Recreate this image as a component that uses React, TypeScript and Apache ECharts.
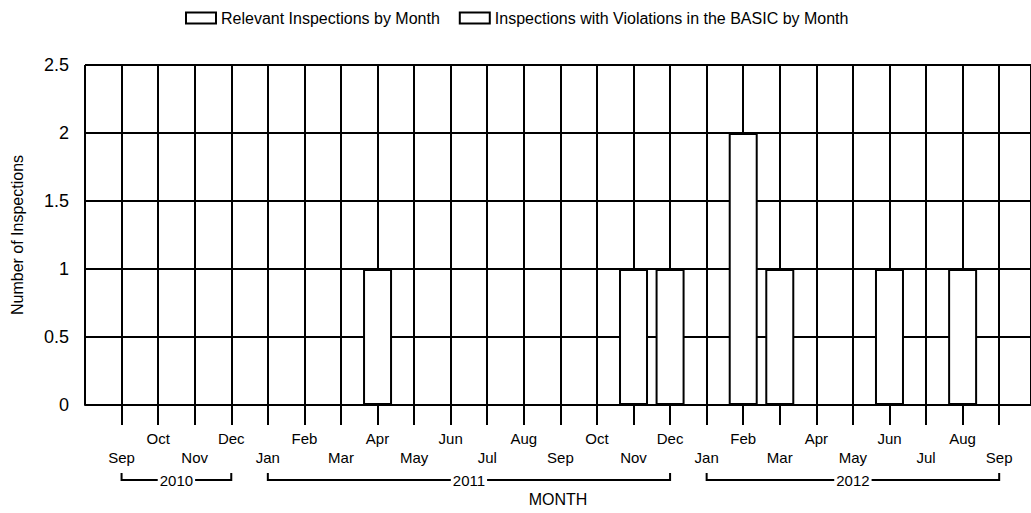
import React, { useEffect, useRef } from "react";
import * as echarts from "echarts";

// Month index 0 = Sep 2010 ... 24 = Sep 2012
const monthLabels = [
  "Sep", "Oct", "Nov", "Dec",
  "Jan", "Feb", "Mar", "Apr", "May", "Jun", "Jul", "Aug", "Sep", "Oct", "Nov", "Dec",
  "Jan", "Feb", "Mar", "Apr", "May", "Jun", "Jul", "Aug", "Sep",
];
const relevantInspections = [0, 0, 0, 0, 0, 0, 0, 1, 0, 0, 0, 0, 0, 0, 1, 1, 0, 2, 1, 0, 0, 1, 0, 1, 0];
const violationInspections = [0, 0, 0, 0, 0, 0, 0, 0, 0, 0, 0, 0, 0, 0, 0, 0, 0, 0, 0, 0, 0, 0, 0, 0, 0];
const yearLabels = ["2010", "2011", "2012"];
const yearStart = [0, 4, 16];
const yearEnd = [3, 15, 24];
const yTicks = [0, 0.5, 1, 1.5, 2, 2.5];

const FONT = "'Liberation Sans', Arial, sans-serif";

export default function App() {
  const ref = useRef<HTMLDivElement>(null);
  useEffect(() => {
    if (!ref.current) return;
    const chart = echarts.init(ref.current, null, { renderer: "svg" });
    const black = "#000";
    chart.setOption({
      animation: false,
      backgroundColor: "#fff",
      textStyle: { fontFamily: FONT, color: black },
      legend: {
        top: 5,
        left: 180,
        itemWidth: 30,
        itemHeight: 11,
        itemGap: 19,
        icon: "rect",
        textStyle: { fontSize: 16, color: black, fontFamily: FONT },
        data: ["Relevant Inspections by Month", "Inspections with Violations in the BASIC by Month"],
      },
      grid: { left: 85, right: 0, top: 65, bottom: 108, containLabel: false },
      xAxis: {
        type: "value",
        min: -1,
        max: 24.87,
        interval: 1,
        name: "MONTH",
        nameLocation: "middle",
        nameGap: 86,
        nameTextStyle: { fontSize: 16, color: black, fontFamily: FONT },
        axisLine: { show: true, onZero: false, lineStyle: { color: black, width: 2 } },
        axisTick: { show: true, length: 20, lineStyle: { color: black, width: 2 } },
        axisLabel: {
          showMinLabel: false,
          showMaxLabel: false,
          margin: 24,
          fontSize: 15,
          lineHeight: 19,
          color: black,
          fontFamily: FONT,
          formatter: (v: number) => {
            const i = Math.round(v);
            if (Math.abs(v - i) > 1e-6 || i < 0 || i >= monthLabels.length) return "";
            return i % 2 === 1 ? monthLabels[i] : "\n" + monthLabels[i];
          },
        },
        splitLine: { show: true, lineStyle: { color: black, width: 2 } },
      },
      yAxis: {
        type: "value",
        min: yTicks[0],
        max: yTicks[yTicks.length - 1],
        interval: 0.5,
        name: "Number of Inspections",
        nameLocation: "middle",
        nameGap: 60,
        nameTextStyle: { fontSize: 16, color: black, fontFamily: FONT },
        axisLine: { show: true, lineStyle: { color: black, width: 2 } },
        axisTick: { show: true, length: 12, lineStyle: { color: black, width: 2 } },
        axisLabel: { fontSize: 18, color: black, margin: 16, fontFamily: FONT },
        splitLine: { show: true, lineStyle: { color: black, width: 2 } },
      },
      series: [
        {
          name: "Relevant Inspections by Month",
          type: "bar",
          barWidth: 29,
          barGap: "-100%",
          itemStyle: { color: "#fff", borderColor: black, borderWidth: 2 },
          data: relevantInspections.map((v, i) => [i, v]),
        },
        {
          name: "Inspections with Violations in the BASIC by Month",
          type: "bar",
          barWidth: 29,
          barGap: "-100%",
          itemStyle: { color: "#fff", borderColor: black, borderWidth: 2 },
          data: violationInspections.map((v, i) => [i, v]),
        },
      ],
    });

    const lineY = 480;
    const capY = 473;
    const graphics: any[] = [];
    yearLabels.forEach((lab, k) => {
      const x1 = chart.convertToPixel({ xAxisIndex: 0 }, yearStart[k]) as number;
      const x2 = chart.convertToPixel({ xAxisIndex: 0 }, yearEnd[k]) as number;
      graphics.push({
        type: "polyline",
        shape: { points: [[x1, capY], [x1, lineY], [x2, lineY], [x2, capY]] },
        style: { stroke: black, lineWidth: 2, fill: null },
      });
      graphics.push({
        type: "text",
        x: (x1 + x2) / 2,
        y: lineY,
        style: {
          text: lab,
          align: "center",
          verticalAlign: "middle",
          fill: black,
          font: `15px ${FONT}`,
          backgroundColor: "#fff",
          padding: [0, 2],
        },
      });
    });
    chart.setOption({ graphic: graphics });

    return () => chart.dispose();
  }, []);
  return (
    <div
      ref={ref}
      style={{ position: "fixed", left: 0, top: 0, width: 1031, height: 513, background: "#fff" }}
    />
  );
}
